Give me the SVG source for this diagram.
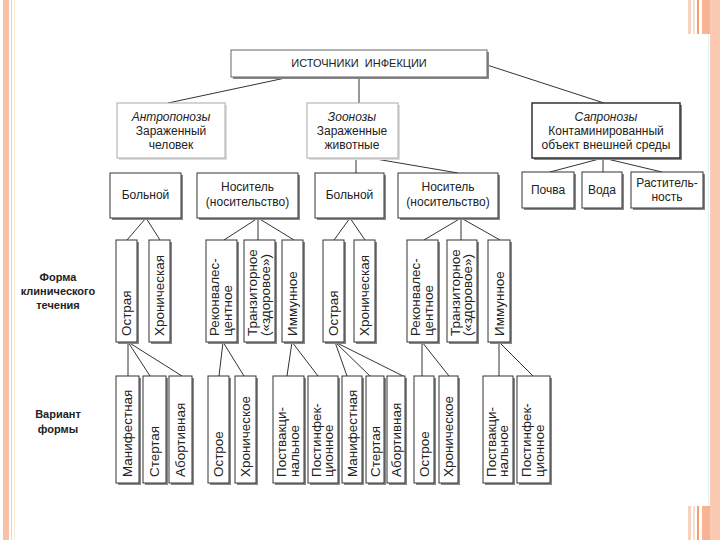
<svg xmlns="http://www.w3.org/2000/svg" width="720" height="540" viewBox="0 0 720 540">
<style>
text{font-family:"Liberation Sans",Arial,sans-serif;fill:#222;}
.h{font-size:12px;text-anchor:middle;}
.it{font-style:italic;}
.t{font-size:11px;text-anchor:middle;word-spacing:3px;}
.lbl{font-size:11px;font-weight:bold;text-anchor:middle;}
.v{font-size:12px;}
.bx{fill:#fff;stroke:#333;stroke-width:1;}
.lt{fill:#fff;stroke:#aaa;stroke-width:1;}
.sh{fill:#888;}
.shl{fill:#ddd;}
.c path{fill:none;stroke:#333;stroke-width:1;}
</style>
<rect width="720" height="540" fill="#fff"/>
<g id="decor">
<rect x="3" y="0" width="6" height="540" fill="#f9c2a6"/>
<rect x="11" y="0" width="1" height="540" fill="#f2d3c6"/>
<rect x="14" y="0" width="1" height="540" fill="#f3ecd2"/>
<rect x="710" y="0" width="10" height="540" fill="#fcc9b2"/>
<rect x="702" y="0" width="8" height="34" fill="#f7b393"/>
<rect x="697" y="0" width="2" height="34" fill="#f0a070"/>
<rect x="688" y="0" width="3" height="34" fill="#f6d2bf"/>
<rect x="693" y="0" width="2" height="34" fill="#f8ddd0"/>
<rect x="702" y="506" width="8" height="34" fill="#f7b393"/>
<rect x="697" y="506" width="2" height="34" fill="#f0a070"/>
<rect x="688" y="506" width="3" height="34" fill="#f6d2bf"/>
<rect x="693" y="506" width="2" height="34" fill="#f8ddd0"/>
<rect x="708" y="34" width="1" height="472" fill="#dff3f6"/>
</g>
<g class="c" id="connectors">
<path d="M290,77 L168,103"/>
<path d="M359,77 V103"/>
<path d="M487,65 L604,103"/>
<path d="M356,158 V173"/>
<path d="M370,158 L458,173"/>
<path d="M603,158 L550,172"/>
<path d="M603,158 V172"/>
<path d="M603,158 L662,172"/>
<path d="M146,218 L127,240 M146,218 L160,240"/>
<path d="M258,218 L224,240 M258,218 V240 M258,218 L294,240"/>
<path d="M350,218 L334,240 M350,218 L365,240"/>
<path d="M461,218 L424,240 M461,218 V240 M461,218 L500,240"/>
<path d="M128,342 V376 M128,342 L150,376 M128,342 L182,376"/>
<path d="M223,342 L219,376 M223,342 L244,376"/>
<path d="M292,342 L287,376 M292,342 L318,376"/>
<path d="M335,342 L347,376 M335,342 L370,376 M335,342 L403,376"/>
<path d="M422,342 V376 M422,342 L449,376"/>
<path d="M499,342 V376 M499,342 L533,376"/>
</g>
<g id="n-root">
<rect class="sh" x="233" y="52" width="256" height="27"/>
<rect class="bx" x="231" y="50" width="256" height="27" style="stroke:#666"/>
<text class="t" x="359" y="67">ИСТОЧНИКИ ИНФЕКЦИИ</text>
</g>
<g id="n-antro">
<rect class="shl" x="119" y="105" width="108" height="55"/>
<rect class="lt" x="117" y="103" width="108" height="55"/>
<text class="h" x="171" y="121"><tspan class="it">Антропонозы</tspan><tspan x="171" dy="14">Зараженный</tspan><tspan x="171" dy="14">человек</tspan></text>
</g>
<g id="n-zoo">
<rect class="shl" x="309" y="105" width="91" height="55"/>
<rect class="lt" x="307" y="103" width="91" height="55"/>
<text class="h" x="352" y="121"><tspan class="it">Зоонозы</tspan><tspan x="352" dy="14">Зараженные</tspan><tspan x="352" dy="14">животные</tspan></text>
</g>
<g id="n-sapro">
<rect class="sh" x="534" y="105" width="148" height="55"/>
<rect class="bx" x="532" y="103" width="148" height="55" style="stroke-width:1.5"/>
<text class="h" x="606" y="121"><tspan class="it">Сапронозы</tspan><tspan x="606" dy="14">Контаминированный</tspan><tspan x="606" dy="14">объект внешней среды</tspan></text>
</g>
<g id="n-bol1">
<rect class="sh" x="112" y="175" width="71" height="45"/>
<rect class="bx" x="110" y="173" width="71" height="45"/>
<text class="h" x="145.5" y="199">Больной</text>
</g>
<g id="n-nos1">
<rect class="sh" x="199" y="175" width="101" height="45"/>
<rect class="bx" x="197" y="173" width="101" height="45"/>
<text class="h" x="247.5" y="191">Носитель<tspan x="247.5" dy="15">(носительство)</tspan></text>
</g>
<g id="n-bol2">
<rect class="sh" x="317" y="175" width="69" height="45"/>
<rect class="bx" x="315" y="173" width="69" height="45"/>
<text class="h" x="349.5" y="199">Больной</text>
</g>
<g id="n-nos2">
<rect class="sh" x="400" y="175" width="100" height="45"/>
<rect class="bx" x="398" y="173" width="100" height="45"/>
<text class="h" x="448" y="191">Носитель<tspan x="448" dy="15">(носительство)</tspan></text>
</g>
<g id="n-pochva">
<rect class="sh" x="524" y="174" width="52" height="36"/>
<rect class="bx" x="522" y="172" width="52" height="36"/>
<text class="h" x="548" y="194">Почва</text>
</g>
<g id="n-voda">
<rect class="sh" x="584" y="174" width="40" height="36"/>
<rect class="bx" x="582" y="172" width="40" height="36"/>
<text class="h" x="602" y="194">Вода</text>
</g>
<g id="n-rast">
<rect class="sh" x="633" y="174" width="72" height="36"/>
<rect class="bx" x="631" y="172" width="72" height="36"/>
<text class="h" x="667" y="187">Раститель-<tspan x="667" dy="14">ность</tspan></text>
</g>
<g id="labels">
<text class="lbl" x="58" y="281">Форма<tspan x="58" dy="14">клинического</tspan><tspan x="58" dy="14">течения</tspan></text>
<text class="lbl" x="58" y="418">Вариант<tspan x="58" dy="15">формы</tspan></text>
</g>
<g id="n-f1"><rect class="sh" x="118" y="242" width="21" height="102"/><rect class="bx" x="116" y="240" width="21" height="102"/><text class="v" transform="translate(131,336) rotate(-90) scale(1.12,1)">Острая</text></g>
<g id="n-f2"><rect class="sh" x="151" y="242" width="21" height="102"/><rect class="bx" x="149" y="240" width="21" height="102"/><text class="v" transform="translate(164,336) rotate(-90) scale(1.12,1)">Хроническая</text></g>
<g id="n-f3"><rect class="sh" x="208" y="242" width="31" height="102"/><rect class="bx" x="206" y="240" width="31" height="102"/><text class="v" transform="translate(219,336) rotate(-90) scale(1.12,1)">Реконвалес-<tspan x="0" dy="13">центное</tspan></text></g>
<g id="n-f4"><rect class="sh" x="246" y="242" width="31" height="102"/><rect class="bx" x="244" y="240" width="31" height="102"/><text class="v" transform="translate(257,336) rotate(-90) scale(1.12,1)">Транзиторное<tspan x="0" dy="13">(«здоровое»)</tspan></text></g>
<g id="n-f5"><rect class="sh" x="284" y="242" width="21" height="102"/><rect class="bx" x="282" y="240" width="21" height="102"/><text class="v" transform="translate(297,336) rotate(-90) scale(1.12,1)">Иммунное</text></g>
<g id="n-f6"><rect class="sh" x="325" y="242" width="21" height="102"/><rect class="bx" x="323" y="240" width="21" height="102"/><text class="v" transform="translate(338,336) rotate(-90) scale(1.12,1)">Острая</text></g>
<g id="n-f7"><rect class="sh" x="356" y="242" width="21" height="102"/><rect class="bx" x="354" y="240" width="21" height="102"/><text class="v" transform="translate(369,336) rotate(-90) scale(1.12,1)">Хроническая</text></g>
<g id="n-f8"><rect class="sh" x="409" y="242" width="31" height="102"/><rect class="bx" x="407" y="240" width="31" height="102"/><text class="v" transform="translate(420,336) rotate(-90) scale(1.12,1)">Реконвалес-<tspan x="0" dy="13">центное</tspan></text></g>
<g id="n-f9"><rect class="sh" x="449" y="242" width="30" height="102"/><rect class="bx" x="447" y="240" width="30" height="102"/><text class="v" transform="translate(459.5,336) rotate(-90) scale(1.12,1)">Транзиторное<tspan x="0" dy="13">(«здоровое»)</tspan></text></g>
<g id="n-f10"><rect class="sh" x="490" y="242" width="22" height="102"/><rect class="bx" x="488" y="240" width="22" height="102"/><text class="v" transform="translate(503.5,336) rotate(-90) scale(1.12,1)">Иммунное</text></g>
<g id="n-v1"><rect class="sh" x="118" y="378" width="23" height="107"/><rect class="bx" x="116" y="376" width="23" height="107"/><text class="v" transform="translate(132,477) rotate(-90) scale(1.12,1)">Манифестная</text></g>
<g id="n-v2"><rect class="sh" x="145" y="378" width="23" height="107"/><rect class="bx" x="143" y="376" width="23" height="107"/><text class="v" transform="translate(159,477) rotate(-90) scale(1.12,1)">Стертая</text></g>
<g id="n-v3"><rect class="sh" x="171" y="378" width="23" height="107"/><rect class="bx" x="169" y="376" width="23" height="107"/><text class="v" transform="translate(185,477) rotate(-90) scale(1.12,1)">Абортивная</text></g>
<g id="n-v4"><rect class="sh" x="210" y="378" width="21" height="107"/><rect class="bx" x="208" y="376" width="21" height="107"/><text class="v" transform="translate(223,477) rotate(-90) scale(1.12,1)">Острое</text></g>
<g id="n-v5"><rect class="sh" x="237" y="378" width="21" height="107"/><rect class="bx" x="235" y="376" width="21" height="107"/><text class="v" transform="translate(250,477) rotate(-90) scale(1.12,1)">Хроническое</text></g>
<g id="n-v6"><rect class="sh" x="275" y="378" width="31" height="107"/><rect class="bx" x="273" y="376" width="31" height="107"/><text class="v" transform="translate(286,477) rotate(-90) scale(1.12,1)">Поствакци-<tspan x="0" dy="13">нальное</tspan></text></g>
<g id="n-v7"><rect class="sh" x="310" y="378" width="30" height="107"/><rect class="bx" x="308" y="376" width="30" height="107"/><text class="v" transform="translate(320.5,477) rotate(-90) scale(1.12,1)">Постинфек-<tspan x="0" dy="13">ционное</tspan></text></g>
<g id="n-v8"><rect class="sh" x="344" y="378" width="20" height="107"/><rect class="bx" x="342" y="376" width="20" height="107"/><text class="v" transform="translate(356.5,477) rotate(-90) scale(1.12,1)">Манифестная</text></g>
<g id="n-v9"><rect class="sh" x="368" y="378" width="18" height="107"/><rect class="bx" x="366" y="376" width="18" height="107"/><text class="v" transform="translate(379.5,477) rotate(-90) scale(1.12,1)">Стертая</text></g>
<g id="n-v10"><rect class="sh" x="389" y="378" width="18" height="107"/><rect class="bx" x="387" y="376" width="18" height="107"/><text class="v" transform="translate(400.5,477) rotate(-90) scale(1.12,1)">Абортивная</text></g>
<g id="n-v11"><rect class="sh" x="416" y="378" width="20" height="107"/><rect class="bx" x="414" y="376" width="20" height="107"/><text class="v" transform="translate(428.5,477) rotate(-90) scale(1.12,1)">Острое</text></g>
<g id="n-v12"><rect class="sh" x="441" y="378" width="19" height="107"/><rect class="bx" x="439" y="376" width="19" height="107"/><text class="v" transform="translate(453,477) rotate(-90) scale(1.12,1)">Хроническое</text></g>
<g id="n-v13"><rect class="sh" x="485" y="378" width="30" height="107"/><rect class="bx" x="483" y="376" width="30" height="107"/><text class="v" transform="translate(495.5,477) rotate(-90) scale(1.12,1)">Поствакци-<tspan x="0" dy="13">нальное</tspan></text></g>
<g id="n-v14"><rect class="sh" x="519" y="378" width="33" height="107"/><rect class="bx" x="517" y="376" width="33" height="107"/><text class="v" transform="translate(531,477) rotate(-90) scale(1.12,1)">Постинфек-<tspan x="0" dy="13">ционное</tspan></text></g>
</svg>
